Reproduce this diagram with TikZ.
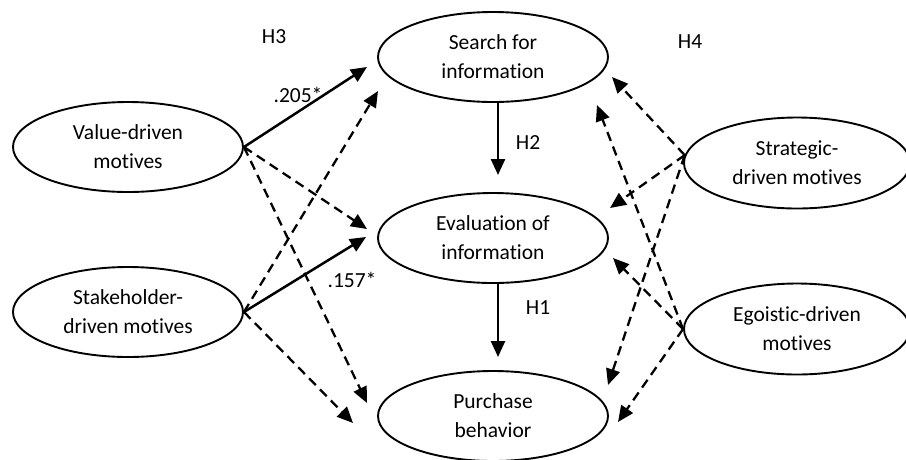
\documentclass[tikz,border=0pt]{standalone}
\usepackage{fontspec}
\setmainfont{Carlito}[Ligatures=NoCommon]
\usetikzlibrary{shapes.geometric,arrows.meta}

\begin{document}
\begin{tikzpicture}[x=1pt,y=-1pt,
  construct/.style={draw=black,line width=1.9pt,ellipse,minimum width=230pt,
    minimum height=90pt,inner sep=0pt,align=center,
    font=\fontsize{21.5}{29}\selectfont},
  lbl/.style={font=\fontsize{21.5}{25}\selectfont,inner sep=0pt},
  tip/.style={-{Triangle[length=16pt,width=14pt]}},
  sig/.style={tip,line width=2.5pt},
  nonsig/.style={tip,line width=2.3pt,dash pattern=on 9.5pt off 6pt}]

\useasboundingbox (0,0) rectangle (906,459);

% constructs
\node[construct] (val)  at (128,147) {Value-driven\\motives};
\node[construct] (stk)  at (128,312) {Stakeholder-\\driven motives};
\node[construct] (srch) at (493,57)  {Search for\\information};
\node[construct] (eval) at (493,238) {Evaluation of\\information};
\node[construct] (pur)  at (493,416) {Purchase\\behavior};
\node[construct,minimum width=226pt,minimum height=91pt] (strat) at (797,163) {Strategic-\\driven motives};
\node[construct,minimum width=226pt,minimum height=91pt] (ego)   at (797,329) {Egoistic-driven\\motives};

% arrow end points in front of the target constructs
\coordinate (vS) at (367,67);
\coordinate (vE) at (367,229);
\coordinate (vP) at (367,403);
\coordinate (sS) at (378,91);
\coordinate (sE) at (366,237);
\coordinate (sP) at (353,423);
\coordinate (tS) at (612,77);
\coordinate (tE) at (610,208);
\coordinate (tP) at (608,385);
\coordinate (eS) at (597,105);
\coordinate (eE) at (613,258);
\coordinate (eP) at (618,422);
\coordinate (h2) at (498,175);
\coordinate (h1) at (498,357);

% process chain
\draw[sig] ([xshift=5pt]srch.south) -- (h2);
\draw[sig] ([xshift=5pt]eval.south) -- (h1);

% motives on the left
\draw[sig]    (val.east) -- (vS);
\draw[nonsig] (val.east) -- (vE);
\draw[nonsig] (val.east) -- (vP);
\draw[nonsig] (stk.east) -- (sS);
\draw[sig]    (stk.east) -- (sE);
\draw[nonsig] (stk.east) -- (sP);

% motives on the right
\draw[nonsig] (strat.176) -- (tS);
\draw[nonsig] (strat.176) -- (tE);
\draw[nonsig] (strat.176) -- (tP);
\draw[nonsig] (ego.west) -- (eS);
\draw[nonsig] (ego.west) -- (eE);
\draw[nonsig] (ego.west) -- (eP);

% hypothesis labels and coefficients
\node[lbl] (lh3) at (274,37)  {H3};
\node[lbl] (lh4) at (690,42)  {H4};
\node[lbl] (lh2) at (528,143) {H2};
\node[lbl] (lh1) at (538,308) {H1};
\node[lbl] (c1)  at (298,95)  {.205*};
\node[lbl] (c2)  at (352,280) {.157*};
\end{tikzpicture}
\end{document}
